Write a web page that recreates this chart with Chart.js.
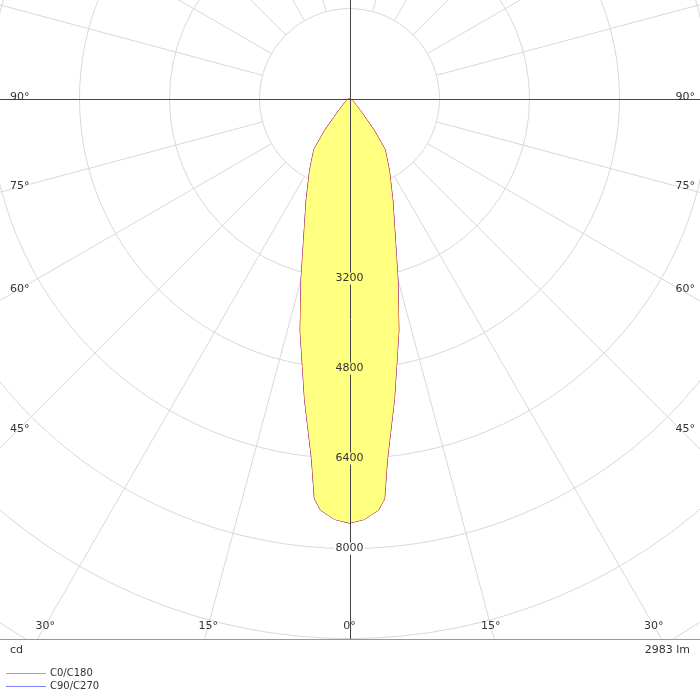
<!DOCTYPE html>
<html><head><meta charset="utf-8">
<script src="https://cdn.jsdelivr.net/npm/chart.js@4/dist/chart.umd.min.js"></script>
<style>body{margin:0;background:#fff}canvas{display:block}</style></head>
<body><canvas id="c" width="700" height="700"></canvas>
<script>
const angles = [0, 2, 4, 5, 6, 8.5, 12, 15, 23, 29, 35, 38, 42, 60, 90];
const c0c180 = [7540, 7480, 7330, 7140, 6440, 5400, 4215, 3320, 1970, 1460, 1100, 700, 290, 60, 0];
const c90c270 = [7540, 7480, 7330, 7140, 6440, 5400, 4215, 3320, 1970, 1460, 1100, 700, 290, 60, 0];
const ringValues = [1600, 3200, 4800, 6400, 8000, 9600, 11200, 12800, 14400];
const ringLabels = ["3200", "4800", "6400", "8000"];
const sideAngles = [90, 75, 60, 45];
const bottomAngles = [30, 15, 0];
const flux = "2983 lm";
const unit = "cd";
const seriesNames = ["C0/C180", "C90/C270"];

const K = 1600 / 90;
const FILL = 'rgb(255,255,128)';
function shape(vals) {
  const pts = [];
  for (let i = angles.length - 1; i >= 0; i--) { const t = angles[i] * Math.PI / 180; pts.push({x: vals[i] * Math.sin(t), y: -vals[i] * Math.cos(t)}); }
  for (let i = 1; i < angles.length; i++) { const t = angles[i] * Math.PI / 180; pts.push({x: -vals[i] * Math.sin(t), y: -vals[i] * Math.cos(t)}); }
  return pts;
}
const font = '11px "DejaVu Sans"';
const polarPlugin = {
  id: 'polar',
  beforeDatasetsDraw(ch) {
    const {ctx, chartArea: a, scales: {x, y}} = ch;
    const cx = x.getPixelForValue(0), cy = y.getPixelForValue(0);
    const px = v => x.getPixelForValue(v) - cx;
    ctx.save();
    ctx.beginPath(); ctx.rect(a.left, a.top, a.right - a.left, a.bottom - a.top); ctx.clip();
    ctx.strokeStyle = '#d8d8d8'; ctx.lineWidth = 1;
    ringValues.forEach(v => { ctx.beginPath(); ctx.arc(cx, cy, px(v), 0, Math.PI * 2); ctx.stroke(); });
    const r0 = px(1600);
    for (let d = 0; d < 360; d += 15) {
      if (d % 90 === 0) continue;
      const t = d * Math.PI / 180;
      ctx.beginPath();
      ctx.moveTo(cx + r0 * Math.sin(t), cy + r0 * Math.cos(t));
      ctx.lineTo(cx + 2000 * Math.sin(t), cy + 2000 * Math.cos(t));
      ctx.stroke();
    }
    ctx.restore();
  },
  afterDatasetsDraw(ch) {
    const {ctx, chartArea: a, scales: {x, y}} = ch;
    const cx = x.getPixelForValue(0), cy = y.getPixelForValue(0);
    const px = v => x.getPixelForValue(v) - cx;
    ctx.save();
    ctx.strokeStyle = '#444'; ctx.lineWidth = 1;
    ctx.beginPath(); ctx.moveTo(a.left, Math.round(cy) + 0.5); ctx.lineTo(a.right, Math.round(cy) + 0.5);
    ctx.moveTo(Math.round(cx) + 0.5, a.top); ctx.lineTo(Math.round(cx) + 0.5, a.bottom); ctx.stroke();
    ctx.strokeStyle = '#999';
    ctx.beginPath(); ctx.moveTo(a.left, a.bottom + 0.5); ctx.lineTo(a.right, a.bottom + 0.5); ctx.stroke();
    ctx.font = font; ctx.textBaseline = 'middle';
    const peak = Math.max(...c0c180);
    ringLabels.forEach(l => {
      const r = px(+l); ctx.textAlign = 'center';
      const w = ctx.measureText(l).width;
      ctx.fillStyle = (+l < peak) ? FILL : '#fff';
      ctx.fillRect(cx - w / 2 - 1, cy + r - 6, w + 2, 12);
      ctx.fillStyle = '#333'; ctx.fillText(l, cx, cy + r);
    });
    sideAngles.forEach(d => {
      const t = d * Math.PI / 180;
      const yy = cy + 0.95 * (cx - a.left) / Math.tan(t);
      ctx.textAlign = 'left'; ctx.fillText(d + '°', a.left + 10, yy - 1);
      ctx.textAlign = 'right'; ctx.fillText(d + '°', a.right - 5, yy - 1);
    });
    bottomAngles.forEach(d => {
      const t = d * Math.PI / 180;
      const dx = 0.975 * (a.bottom - cy) * Math.tan(t);
      ctx.textAlign = 'center';
      ctx.fillText(d + '°', cx - dx, a.bottom - 13);
      if (d) ctx.fillText(d + '°', cx + dx, a.bottom - 13);
    });
    ctx.textAlign = 'left'; ctx.fillText(unit, 10, 650);
    ctx.textAlign = 'right'; ctx.fillText(flux, 690, 650);
    ctx.font = '10px "DejaVu Sans"'; ctx.textAlign = 'left';
    [['#ff8080', 673], ['#8080ff', 686]].forEach(([c, yy], i) => {
      ctx.strokeStyle = c; ctx.beginPath(); ctx.moveTo(6, yy + 0.5); ctx.lineTo(46, yy + 0.5); ctx.stroke();
      ctx.fillStyle = '#333'; ctx.fillText(seriesNames[i], 50, yy);
    });
    ctx.restore();
  }
};
new Chart(document.getElementById('c'), {
  type: 'scatter',
  data: { datasets: [
    {data: shape(c0c180), showLine: true, fill: 'shape', backgroundColor: FILL, borderWidth: 0, pointRadius: 0},
    {data: shape(c0c180), showLine: true, fill: false, borderColor: '#d02040', borderWidth: 1, pointRadius: 0},
    {data: shape(c90c270), showLine: true, fill: false, borderColor: 'rgba(50,30,220,0.8)', borderWidth: 1, pointRadius: 0}
  ]},
  options: {
    responsive: false, animation: false,
    layout: {padding: {left: 0, right: 0, top: 0, bottom: 61}},
    plugins: {legend: {display: false}, tooltip: {enabled: false}},
    scales: {
      x: {display: false, min: -349.5 * K, max: 350.5 * K},
      y: {display: false, min: -540 * K, max: 98.5 * K}
    }
  },
  plugins: [polarPlugin]
});
</script></body></html>
